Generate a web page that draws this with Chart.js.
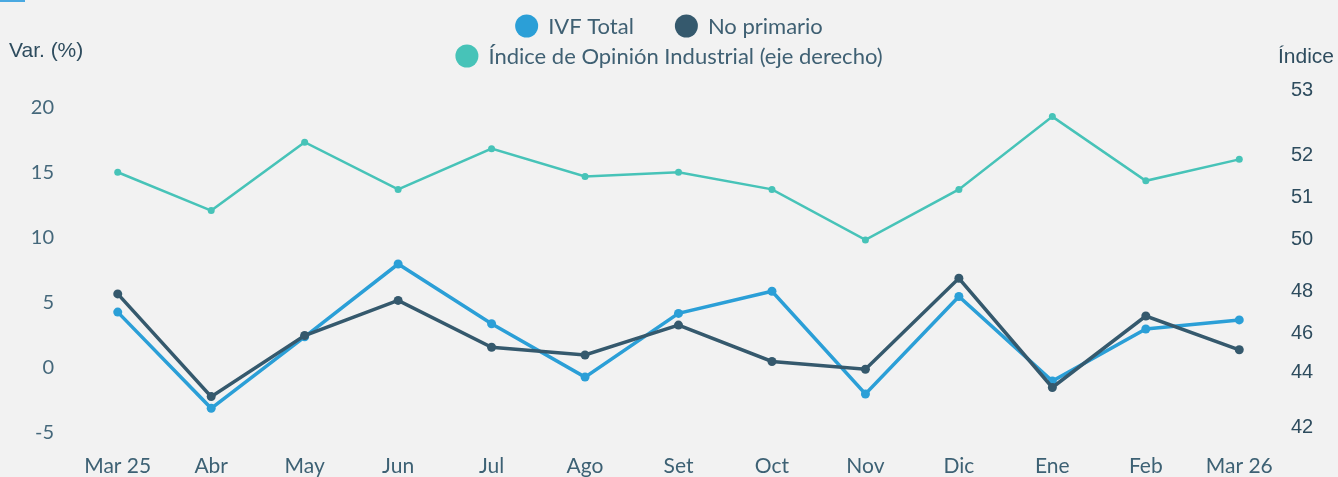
<!DOCTYPE html>
<html>
<head>
<meta charset="utf-8">
<script src="https://cdn.jsdelivr.net/npm/chart.js@4"></script>
<style>
  html, body { margin: 0; padding: 0; background: #f2f2f2; }
  #wrap { position: relative; width: 1338px; height: 477px; }
  #bar { position: absolute; left: 0; top: 0; width: 25px; height: 2px; background: #4aa9e1; }
</style>
</head>
<body>
<div id="wrap">
  <canvas id="chart" width="1338" height="477"></canvas>
  <div id="bar"></div>
</div>
<script>
const months = ['Mar 25', 'Abr', 'May', 'Jun', 'Jul', 'Ago', 'Set', 'Oct', 'Nov', 'Dic', 'Ene', 'Feb', 'Mar 26'];
const ivfTotal = [4.3, -3.1, 2.4, 8.0, 3.4, -0.7, 4.2, 5.9, -2.0, 5.5, -1.0, 3.0, 3.7];
const noPrimario = [5.7, -2.2, 2.5, 5.2, 1.6, 1.0, 3.3, 0.5, -0.1, 6.9, -1.5, 4.0, 1.4];
const opinionIndex = [51.6, 50.7, 52.2, 51.2, 52.1, 51.5, 51.6, 51.2, 50.0, 51.2, 52.6, 51.4, 51.9];
const varTicks = [-5, 0, 5, 10, 15, 20];
const indexTicks = [42, 44, 46, 48, 50, 51, 52, 53];

// where each right-axis tick sits, expressed on the left axis (the original axis is uneven)
const indexTickAlign = [-4.54, -0.38, 2.69, 5.85, 9.85, 13.08, 16.38, 21.31];

const textColor = '#3d6174';

// right axis drawn against the left one, piece by piece between its ticks
class AlignedScale extends Chart.LinearScale {
  static id = 'aligned';
  static defaults = Chart.LinearScale.defaults;
  toLeft(v) {
    const k = indexTicks, a = indexTickAlign;
    let i = 0;
    while (i < k.length - 2 && v > k[i + 1]) i++;
    return a[i] + (v - k[i]) * (a[i + 1] - a[i]) / (k[i + 1] - k[i]);
  }
  getPixelForValue(v) {
    return this.chart.scales.y.getPixelForValue(this.toLeft(v));
  }
}
Chart.register(AlignedScale);

// legend in two rows, like the original
const legendRows = [[0, 1], [2]];
const twoRowLegend = {
  id: 'twoRowLegend',
  afterDraw(chart) {
    const ctx = chart.ctx;
    const ds = chart.data.datasets;
    ctx.save();
    ctx.font = '22px Lato, sans-serif';
    ctx.textBaseline = 'middle';
    ctx.textAlign = 'left';
    legendRows.forEach((row, r) => {
      const y = 26 + r * 30;
      const widths = row.map(i => 23 + 10 + ctx.measureText(ds[i].label).width);
      const total = widths.reduce((s, w) => s + w, 0) + 41 * (row.length - 1);
      let x = chart.width / 2 - total / 2;
      row.forEach((i, j) => {
        ctx.fillStyle = ds[i].borderColor;
        ctx.beginPath();
        ctx.arc(x + 11.5, y, 11.5, 0, Math.PI * 2);
        ctx.fill();
        ctx.fillStyle = '#3f6073';
        ctx.fillText(ds[i].label, x + 33, y + 1);
        x += widths[j] + 41;
      });
    });
    ctx.restore();
  }
};

const axisTitles = {
  id: 'axisTitles',
  afterDraw(chart) {
    const ctx = chart.ctx;
    ctx.save();
    ctx.fillStyle = '#2e4c5e';
    ctx.font = "21px 'Liberation Sans', Arial, sans-serif";
    ctx.textBaseline = 'alphabetic';
    ctx.textAlign = 'left';
    ctx.fillText('Var. (%)', 9, 57);
    ctx.fillText('Índice', 1278, 63);
    ctx.restore();
  }
};

new Chart(document.getElementById('chart'), {
  type: 'line',
  data: {
    labels: months,
    datasets: [{
      label: 'IVF Total',
      data: ivfTotal,
      yAxisID: 'y',
      borderColor: '#2b9fd7',
      backgroundColor: '#2b9fd7',
      borderWidth: 3.5,
      pointRadius: 4.5,
      pointBorderWidth: 0,
      order: 2
    }, {
      label: 'No primario',
      data: noPrimario,
      yAxisID: 'y',
      borderColor: '#35596d',
      backgroundColor: '#35596d',
      borderWidth: 3.5,
      pointRadius: 4.5,
      pointBorderWidth: 0,
      order: 1
    }, {
      label: 'Índice de Opinión Industrial (eje derecho)',
      data: opinionIndex,
      yAxisID: 'y1',
      borderColor: '#47c3b8',
      backgroundColor: '#47c3b8',
      borderWidth: 2.5,
      pointRadius: 3.5,
      pointBorderWidth: 0,
      order: 3
    }]
  },
  options: {
    responsive: false,
    animation: false,
    layout: { padding: { top: 80 } },
    elements: { line: { tension: 0 } },
    plugins: {
      legend: { display: false },
      tooltip: { enabled: false }
    },
    scales: {
      x: {
        offset: true,
        grid: { display: false, drawTicks: false },
        border: { display: false },
        ticks: {
          color: textColor,
          font: { family: 'Lato, sans-serif', size: 21, lineHeight: 1 },
          padding: 11,
          maxRotation: 0,
          autoSkip: false
        },
        afterFit: s => { s.height = 32; }
      },
      y: {
        position: 'left',
        min: -5.923,
        max: 22.154,
        grid: { display: false, drawTicks: false },
        border: { display: false },
        ticks: {
          color: '#45687b',
          font: { family: 'Lato, sans-serif', size: 20 },
          padding: 17,
          autoSkip: false
        },
        afterBuildTicks: s => { s.ticks = varTicks.map(v => ({ value: v })); },
        afterFit: s => { s.width = 71; }
      },
      y1: {
        type: 'aligned',
        position: 'right',
        min: 41,
        max: 54,
        grid: { display: false, drawTicks: false },
        border: { display: false },
        ticks: {
          color: '#2e4c5e',
          font: { family: "'Liberation Sans', Arial, sans-serif", size: 20 },
          padding: 5,
          autoSkip: false
        },
        afterBuildTicks: s => { s.ticks = indexTicks.map(v => ({ value: v })); },
        afterFit: s => { s.width = 52; }
      }
    }
  },
  plugins: [twoRowLegend, axisTitles]
});
</script>
</body>
</html>
